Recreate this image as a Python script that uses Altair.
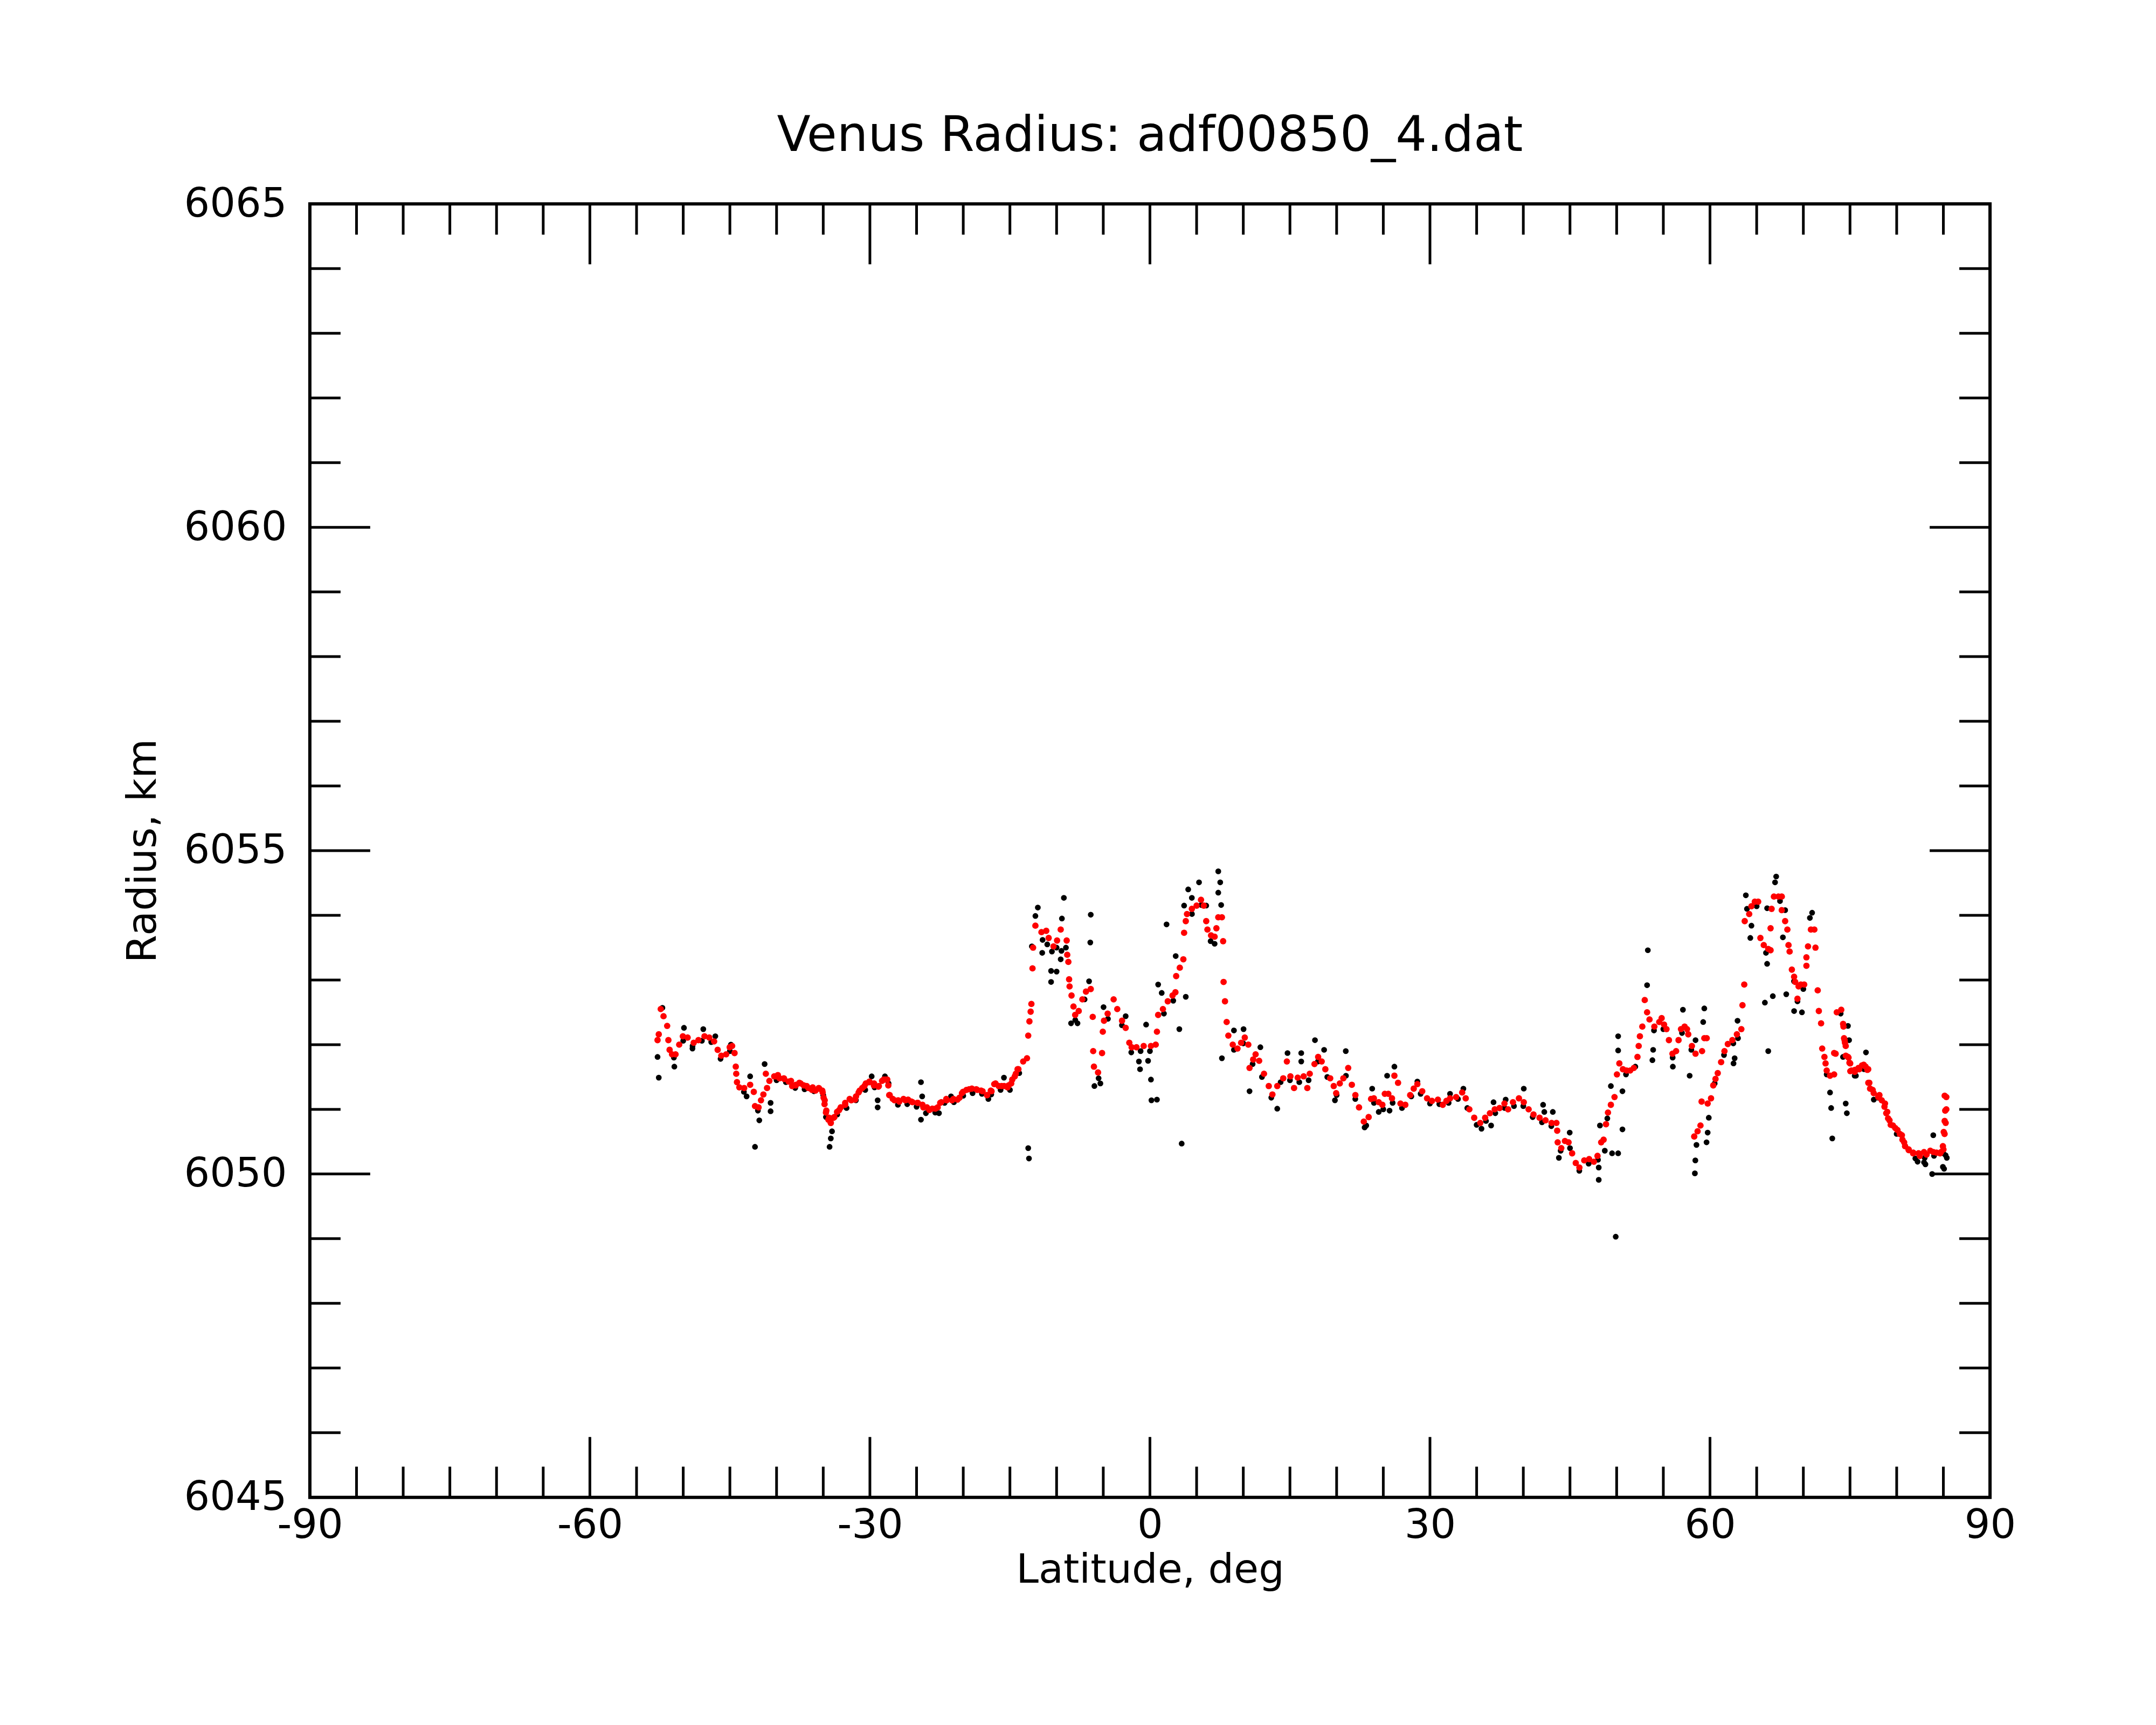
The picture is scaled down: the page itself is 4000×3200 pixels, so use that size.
import altair as alt
import pandas as pd

# ---------------- data ----------------
# smoothed radius (red), coarse reading over the whole pass
red_lat = [
    -52.75, -52.62, -52.41, -52.11, -51.72, -51.59, -51.46, -51.20, -50.82, -50.43,
    -50.04, -49.53, -48.88, -48.37, -47.72, -47.21, -46.69, -46.31, -45.92, -45.40,
    -45.02, -44.76, -44.50, -44.37, -44.32, -44.24, -43.99, -43.47, -42.83, -42.44,
    -42.31, -41.93, -41.67, -41.41, -41.15, -41.02, -40.77, -40.25, -39.86, -39.22,
    -38.45, -37.93, -37.42, -36.77, -36.13, -35.48, -35.10, -34.84, -34.71, -34.45,
    -34.19, -33.81, -33.29, -32.65, -32.00, -31.49, -31.10, -30.59, -30.07, -29.55,
    -29.04, -28.52, -28.14, -27.88, -27.36, -26.85, -26.20, -25.56, -24.92, -24.27,
    -23.63, -22.98, -22.47, -21.82, -21.05, -20.40, -20.02, -19.37, -18.60, -18.09,
    -17.44, -17.05, -16.54, -15.89, -15.25, -14.86, -14.48, -14.09, -13.58,
    -13.17, -13.04, -12.91, -12.78, -12.70, -12.58, -12.52, -12.27, -11.62, -11.11,
    -10.85, -10.33, -9.95, -9.56, -8.92, -8.86, -8.74, -8.66, -8.61, -8.40,
    -8.19, -8.01, -7.63, -7.24, -6.85, -6.34, -6.13, -6.08, -6.00, -5.56,
    -5.13, -5.05, -4.92, -4.53, -3.89, -3.50, -2.99, -2.60, -2.21, -1.96,
    -1.44, -0.67, 0.11, 0.62, 0.75, 0.88, 1.39, 1.91, 2.42, 2.73,
    2.81, 3.20, 3.58, 3.66, 3.84, 3.97, 4.49, 5.00, 5.47, 5.77,
    6.03, 6.16, 6.55, 6.93, 7.12, 7.32, 7.71, 7.84, 7.89, 8.04,
    8.22, 8.40, 8.87, 9.38, 9.77, 10.16, 10.54, 10.67, 11.06, 11.32,
    11.70, 12.22, 12.73, 13.12, 13.64, 14.28, 14.67, 15.05, 15.44, 15.83,
    16.47, 16.86, 17.12, 17.63, 18.02, 18.40, 18.79, 19.31, 19.69, 19.95,
    20.34, 20.72, 21.24, 21.63, 22.01, 22.40, 22.91, 23.43, 23.69,
    23.99, 24.51, 24.90, 25.16, 25.54, 25.93, 26.19, 26.58, 26.84, 27.36,
    27.88, 28.26, 28.65, 29.17, 29.69, 30.21, 30.85, 31.37, 31.76, 32.15,
    32.80, 33.45, 33.83, 34.22, 34.74, 35.39, 35.91, 36.42, 36.94, 37.46,
    37.98, 38.37, 38.89, 39.53, 40.05, 40.57, 41.09, 41.74, 42.38, 43.03,
    43.55, 43.63, 43.68, 44.07, 44.46, 44.85, 45.23, 45.62, 46.01, 46.53,
    47.05, 47.56, 47.95, 48.34, 48.60, 48.86, 49.07, 49.38, 49.77, 50.03,
    50.29, 50.67, 51.06, 51.45, 51.84, 52.23, 52.36, 52.49, 52.75, 53.01,
    53.26, 53.52, 54.04, 54.56, 54.82, 55.08, 55.34, 55.60, 55.98, 56.37,
    56.63, 56.89, 57.28, 57.54, 57.67, 58.06, 58.45, 59.15, 59.39, 59.65,
    58.31, 58.67, 58.98, 59.10, 59.75, 60.11, 60.35, 60.59, 60.83, 61.19,
    61.55, 61.91, 62.40, 62.88, 63.36, 63.48, 63.67, 63.72, 64.20, 64.44,
    64.80, 65.16, 65.40, 65.76, 66.24, 66.49, 66.49, 66.60, 66.85, 67.33,
    67.69, 67.69, 68.05, 68.29, 68.41, 68.53, 68.77, 69.01, 69.13, 69.37,
    69.49, 69.73, 70.09, 70.33, 70.33, 70.50, 70.81, 71.18, 71.30, 71.54,
    71.66, 71.90, 72.02, 72.26, 72.38, 72.50, 72.86, 73.46, 73.58, 74.06,
    74.30, 74.42, 74.54, 74.78, 75.02, 75.15, 75.51, 75.99, 76.47, 76.95,
    77.07, 77.43, 78.15, 78.75, 78.99, 79.23, 79.60, 80.08, 80.56, 80.80,
    81.28, 81.76, 82.48, 83.20, 83.93, 84.65, 85.01, 85.13, 85.25, 85.32,
    85.32,
]
red_val = [
    6052.07, 6052.16, 6052.55, 6052.44, 6052.29, 6052.07, 6051.92, 6051.85, 6051.85, 6052.00,
    6052.13, 6052.11, 6052.03, 6052.07, 6052.13, 6052.11, 6052.05, 6051.92, 6051.83, 6051.85,
    6051.96, 6051.98, 6051.87, 6051.66, 6051.55, 6051.42, 6051.34, 6051.33, 6051.38, 6051.27,
    6051.05, 6051.03, 6051.14, 6051.23, 6051.55, 6051.33, 6051.44, 6051.51, 6051.53, 6051.48,
    6051.44, 6051.38, 6051.40, 6051.36, 6051.34, 6051.33, 6051.29, 6051.14, 6050.95, 6050.84,
    6050.79, 6050.88, 6050.99, 6051.07, 6051.14, 6051.20, 6051.29, 6051.36, 6051.42, 6051.40,
    6051.36, 6051.46, 6051.46, 6051.22, 6051.14, 6051.12, 6051.14, 6051.12, 6051.10, 6051.03,
    6050.99, 6051.01, 6051.10, 6051.16, 6051.16, 6051.18, 6051.27, 6051.31, 6051.31, 6051.29,
    6051.22, 6051.29, 6051.40, 6051.36, 6051.34, 6051.40, 6051.51, 6051.62, 6051.74,
    6051.79, 6052.14, 6052.36, 6052.51, 6052.63, 6053.18, 6053.50, 6053.84, 6053.74, 6053.76,
    6053.65, 6053.52, 6053.61, 6053.78, 6053.61, 6053.39, 6053.28, 6053.01, 6052.90, 6052.76,
    6052.59, 6052.46, 6052.52, 6052.70, 6052.82, 6052.86, 6052.43, 6051.90, 6051.66, 6051.57,
    6051.87, 6052.20, 6052.37, 6052.48, 6052.70, 6052.55, 6052.37, 6052.26, 6052.03, 6051.96,
    6051.96, 6051.98, 6051.98, 6052.00, 6052.20, 6052.46, 6052.55, 6052.67, 6052.76, 6052.81,
    6053.06, 6053.19, 6053.32, 6053.73, 6053.91, 6054.02, 6054.10, 6054.15, 6054.24, 6054.15,
    6053.91, 6053.78, 6053.69, 6053.67, 6053.80, 6053.97, 6053.97, 6053.60, 6052.97, 6052.67,
    6052.35, 6052.14, 6052.00, 6051.94, 6052.03, 6052.11, 6052.00, 6051.64, 6051.77, 6051.85,
    6051.75, 6051.55, 6051.36, 6051.23, 6051.36, 6051.48, 6051.74, 6051.51, 6051.33, 6051.49,
    6051.51, 6051.33, 6051.55, 6051.70, 6051.81, 6051.74, 6051.62, 6051.48, 6051.36, 6051.25,
    6051.40, 6051.48, 6051.64, 6051.38, 6051.22, 6051.03, 6050.81, 6050.88, 6051.16,
    6051.17, 6051.11, 6051.07, 6051.24, 6051.24, 6051.17, 6051.52, 6051.41, 6051.09, 6051.07,
    6051.22, 6051.32, 6051.39, 6051.28, 6051.17, 6051.13, 6051.15, 6051.07, 6051.13, 6051.17,
    6051.19, 6051.26, 6051.17, 6051.00, 6050.87, 6050.79, 6050.87, 6050.94, 6051.00, 6051.02,
    6051.09, 6051.00, 6051.11, 6051.17, 6051.11, 6051.00, 6050.92, 6050.87, 6050.83, 6050.79,
    6050.79, 6050.67, 6050.49, 6050.40, 6050.51, 6050.49, 6050.32, 6050.17, 6050.10, 6050.21,
    6050.23, 6050.19, 6050.28, 6050.49, 6050.53, 6050.77, 6050.95, 6051.07, 6051.19, 6051.54,
    6051.71, 6051.62, 6051.60, 6051.60, 6051.64, 6051.81, 6051.98, 6052.13, 6052.28, 6052.69,
    6052.50, 6052.39, 6052.28, 6052.35, 6052.41, 6052.31, 6052.24, 6052.07, 6051.86, 6051.90,
    6052.07, 6052.24, 6052.28, 6052.24, 6052.16, 6051.98, 6051.86, 6051.90, 6052.10, 6052.10,
    6050.58, 6050.66, 6050.75, 6051.12, 6051.09, 6051.17, 6051.37, 6051.47, 6051.56, 6051.73,
    6051.90, 6052.01, 6052.07, 6052.16, 6052.24, 6052.61, 6052.93, 6053.91, 6054.02, 6054.14,
    6054.21, 6054.21, 6053.65, 6053.54, 6053.48, 6053.46, 6053.80, 6054.10, 6054.29, 6054.29,
    6054.29, 6054.08, 6053.91, 6053.78, 6053.54, 6053.44, 6053.16, 6053.05, 6052.97, 6052.71,
    6052.90, 6052.93, 6052.93, 6053.22, 6053.35, 6053.52, 6053.78, 6053.78, 6053.50, 6052.84,
    6052.52, 6052.33, 6051.94, 6051.81, 6051.71, 6051.60, 6051.52, 6051.86, 6052.50, 6052.54,
    6052.28, 6052.07, 6051.98, 6051.81, 6051.71, 6051.60, 6051.58, 6051.62, 6051.69, 6051.62,
    6051.41, 6051.30, 6051.22, 6051.09, 6050.96, 6050.83, 6050.75, 6050.68, 6050.60, 6050.49,
    6050.38, 6050.32, 6050.28, 6050.30, 6050.34, 6050.32, 6050.38, 6050.62, 6050.79, 6051.00,
    6051.19,
]
# smoothed radius (red), finer reading of the southern plain (-40 .. -14 deg)
red_lat_south = [
    -40.06, -39.68, -39.19, -38.71, -38.33, -37.94, -37.56, -37.08, -36.59, -36.21,
    -35.83, -35.44, -35.06, -34.96, -34.86, -34.67, -34.38, -34.19, -33.90, -33.52,
    -33.13, -32.65, -32.17, -31.59, -31.21, -30.82, -30.44, -30.05, -29.57, -29.09,
    -28.70, -28.32, -28.03, -27.93, -27.55, -26.97, -26.40, -25.91, -25.43, -24.86,
    -24.37, -23.89, -23.32, -22.74, -22.35, -21.78, -21.20, -20.62, -20.14, -19.66,
    -19.08, -18.50, -17.93, -17.45, -16.97, -16.68, -16.20, -15.62, -15.14, -14.75,
    -14.37, -14.18,
]
red_val_south = [
    6051.51, 6051.48, 6051.47, 6051.43, 6051.36, 6051.37, 6051.41, 6051.37, 6051.33, 6051.30,
    6051.29, 6051.32, 6051.26, 6051.18, 6051.08, 6050.98, 6050.87, 6050.79, 6050.87, 6050.96,
    6051.03, 6051.10, 6051.16, 6051.15, 6051.26, 6051.33, 6051.40, 6051.43, 6051.37, 6051.35,
    6051.44, 6051.46, 6051.37, 6051.22, 6051.16, 6051.14, 6051.16, 6051.15, 6051.11, 6051.10,
    6051.07, 6051.03, 6051.01, 6051.03, 6051.11, 6051.14, 6051.14, 6051.15, 6051.25, 6051.30,
    6051.32, 6051.30, 6051.28, 6051.22, 6051.28, 6051.39, 6051.36, 6051.36, 6051.37, 6051.46,
    6051.55, 6051.62,
]
# smoothed radius (red), finer reading near the north pole (73 .. 85 deg)
red_lat_north = [
    73.30, 73.30, 74.26, 74.36, 74.46, 74.55, 74.84, 74.94, 75.03, 75.52,
    75.90, 76.29, 76.67, 76.86, 76.96, 77.15, 77.54, 78.02, 78.40, 78.69,
    78.88, 79.08, 79.36, 79.85, 80.33, 80.62, 80.90, 81.29, 81.77, 82.35,
    82.93, 83.60, 84.27, 84.75, 84.95, 85.04, 85.14, 85.20, 85.14,
]
red_val_north = [
    6051.87, 6051.54, 6052.32, 6052.10, 6052.03, 6051.83, 6051.80, 6051.72, 6051.59, 6051.61,
    6051.64, 6051.68, 6051.66, 6051.61, 6051.41, 6051.32, 6051.25, 6051.19, 6051.14, 6051.04,
    6050.94, 6050.86, 6050.76, 6050.71, 6050.62, 6050.53, 6050.43, 6050.37, 6050.33, 6050.32,
    6050.34, 6050.36, 6050.33, 6050.34, 6050.43, 6050.65, 6050.82, 6050.98, 6051.21,
]

# raw radius (black)
black_lat = [
    # raw points lying along the smoothed track
    -51.0, -50.0, -49.0, -48.0, -47.0, -46.0, -45.0, -43.5, -42.0, -40.0,
    -39.0, -38.0, -37.0, -36.0, -35.0, -33.5, -32.5, -31.5, -30.5, -29.5,
    -28.0, -27.0, -26.0, -25.0, -24.0, -23.0, -22.0, -21.0, -20.0, -19.0,
    -18.0, -17.0, -16.0, -15.0, -14.0, -11.5, -11.0, -10.5, -10.0, -9.0,
    -8.0, -7.0, -5.5, -4.5, -3.0, -2.0, -1.0, 0.0, 1.5, 2.5,
    4.5, 5.5, 6.5, 9.0, 10.0, 11.0, 12.0, 13.0, 14.0, 15.0,
    16.0, 17.0, 18.0, 19.0, 20.0, 21.0, 22.0, 23.0, 24.0, 25.0,
    26.0, 27.0, 28.0, 29.0, 30.0, 31.0, 32.0, 33.0, 34.0, 35.0,
    36.0, 37.0, 38.0, 39.0, 40.0, 41.0, 42.0, 43.0, 44.0, 45.0,
    46.0, 47.0, 48.0, 49.0, 51.0, 52.0, 54.0, 55.0, 56.0, 57.0,
    58.0, 60.5, 61.5, 62.5, 63.0, 65.0, 66.0, 67.5, 69.0, 70.0,
    72.5, 74.0, 75.5, 76.5, 78.0, 80.0, 82.0, 83.0, 84.0, 85.0,
    # scattered raw points
    -52.62, -52.75, -52.23, -50.95, -49.92, -47.85, -49.01, -46.56, -44.89, -42.83,
    -43.21, -42.31, -41.85, -41.28, -40.64, -40.64, -34.32, -34.19, -34.06, -34.71,
    -29.81, -28.39, -29.17, -29.17, -24.53, -24.53, -24.40, -22.60, -21.31, -15.64,
    -17.31,
    -13.04, -12.96, -12.01, -12.27, -12.65, -11.54, -10.59, -10.00, -10.59, -9.56,
    -9.48, -9.22, -9.43, -6.34, -6.39, -6.52, -8.45, -7.76, -5.95, -5.31,
    -4.97, -2.60, -1.18, -1.06, -0.41, -0.20, 0.11, 0.16, 0.75, 0.88,
    1.26, 1.78, 2.76, 3.15, 3.84, 3.40, 4.10, 5.26, 3.66, 4.49,
    6.03, 7.32, 7.53, 7.32, 7.63, 6.93, 7.71, 9.00, 10.03, 10.67,
    11.83, 13.64, 14.74, 16.21, 16.21, 17.68, 18.66, 20.98, 19.82, 23.17,
    53.34, 53.26, 50.16, 50.16, 50.62, 50.62, 49.51, 50.16, 49.90, 48.08,
    48.08, 48.21, 48.73, 49.38, 58.45, 53.91, 53.83, 43.81, 44.97, 42.12,
    42.25, 43.16, 40.05, 36.55, 38.11, 35.52, 36.81, 25.67, 25.41, 26.19,
    23.81, 24.51, 32.15, 33.58, 28.65,
    67.09, 66.97, 63.84, 63.96, 64.32, 64.44, 66.12, 66.12, 65.88, 66.73,
    66.24, 68.17, 67.81, 68.05, 70.94, 70.70, 69.85, 69.01, 69.37, 72.86,
    72.98, 73.10, 74.54, 74.66, 74.78, 74.90, 74.25, 76.71, 75.63, 77.55,
    82.24, 83.08, 83.80, 83.92, 85.08, 85.37, 57.10, 59.39, 59.27, 57.82,
    56.02, 58.55, 58.43, 58.38, 59.87, 59.75, 59.63, 62.95, 62.52, 62.64,
    82.93, 84.95, 85.24,
]
black_val = [
    6051.80, 6052.06, 6051.98, 6052.06, 6052.04, 6051.78, 6051.90, 6051.27, 6050.98, 6051.45,
    6051.42, 6051.33, 6051.31, 6051.28, 6051.22, 6050.92, 6051.02, 6051.14, 6051.30, 6051.34,
    6051.40, 6051.07, 6051.08, 6051.04, 6050.94, 6050.95, 6051.10, 6051.11, 6051.21, 6051.25,
    6051.24, 6051.23, 6051.30, 6051.30, 6051.56, 6053.62, 6053.55, 6053.44, 6053.50, 6053.50,
    6052.38, 6052.70, 6051.48, 6052.40, 6052.30, 6051.88, 6051.90, 6051.90, 6052.48, 6052.68,
    6054.02, 6054.16, 6053.60, 6051.92, 6052.02, 6051.70, 6051.50, 6051.18, 6051.42, 6051.45,
    6051.42, 6051.45, 6051.74, 6051.50, 6051.22, 6051.52, 6051.16, 6050.72, 6051.10, 6051.00,
    6051.10, 6051.02, 6051.20, 6051.24, 6051.09, 6051.08, 6051.10, 6051.16, 6051.02, 6050.76,
    6050.82, 6050.94, 6051.02, 6051.05, 6051.05, 6050.88, 6050.80, 6050.74, 6050.36, 6050.40,
    6050.05, 6050.16, 6050.22, 6050.86, 6051.54, 6051.66, 6052.22, 6052.24, 6051.80, 6052.18,
    6051.92, 6051.40, 6051.84, 6052.02, 6052.10, 6054.14, 6053.42, 6054.22, 6052.98, 6052.86,
    6051.54, 6052.48, 6051.52, 6051.62, 6051.18, 6050.62, 6050.24, 6050.25, 6050.28, 6050.32,
    6051.49, 6051.81, 6052.57, 6051.66, 6052.26, 6052.24, 6051.94, 6052.13, 6052.00, 6051.51,
    6051.20, 6050.42, 6050.83, 6051.70, 6050.97, 6051.10, 6050.42, 6050.55, 6050.66, 6050.88,
    6051.51, 6051.51, 6051.03, 6051.14, 6051.42, 6050.84, 6051.20, 6050.94, 6051.20, 6051.49,
    6051.16,
    6050.40, 6050.24, 6054.12, 6053.99, 6053.52, 6053.42, 6053.14, 6053.13, 6052.97, 6053.32,
    6053.45, 6054.27, 6053.95, 6054.01, 6053.58, 6052.98, 6052.33, 6052.33, 6051.36, 6051.40,
    6052.58, 6052.44, 6051.74, 6051.62, 6052.31, 6051.75, 6051.46, 6051.14, 6051.15, 6052.93,
    6052.80, 6053.86, 6053.37, 6052.24, 6052.74, 6050.47, 6054.40, 6054.51, 6054.15, 6054.27,
    6054.15, 6054.68, 6054.51, 6054.35, 6054.16, 6053.56, 6051.79, 6052.22, 6052.24, 6051.28,
    6051.96, 6051.01, 6051.87, 6051.87, 6051.74, 6052.07, 6051.92, 6051.90, 6051.14, 6050.75,
    6053.46, 6052.92, 6052.13, 6051.91, 6051.28, 6050.69, 6050.32, 6050.32, 6049.03, 6049.91,
    6050.10, 6050.75, 6050.36, 6051.36, 6052.07, 6051.92, 6051.76, 6050.25, 6050.64, 6051.07,
    6050.96, 6050.96, 6051.32, 6050.75, 6051.15, 6050.70, 6051.11, 6050.98, 6051.52, 6051.66,
    6051.32, 6050.96, 6051.24, 6051.32, 6051.43,
    6054.60, 6054.51, 6054.31, 6054.10, 6053.65, 6053.84, 6054.11, 6053.25, 6052.65, 6052.75,
    6051.90, 6052.78, 6053.66, 6054.08, 6054.04, 6053.96, 6052.50, 6052.52, 6052.67, 6051.26,
    6051.02, 6050.55, 6051.09, 6050.94, 6052.29, 6052.07, 6051.81, 6051.88, 6051.52, 6051.15,
    6050.19, 6050.15, 6050.00, 6050.60, 6050.08, 6050.25, 6052.54, 6052.56, 6052.35, 6051.52,
    6051.66, 6050.45, 6050.21, 6050.01, 6050.87, 6050.64, 6050.49, 6052.37, 6051.71, 6051.79,
    6050.18, 6050.11, 6050.29,
]

x_major = [-90, -60, -30, 0, 30, 60, 90]
x_minor = [-85, -80, -75, -70, -65, -55, -50, -45, -40, -35, -25, -20, -15, -10, -5,
           5, 10, 15, 20, 25, 35, 40, 45, 50, 55, 65, 70, 75, 80, 85]
y_major = [6045, 6050, 6055, 6060, 6065]
y_minor = [6046, 6047, 6048, 6049, 6051, 6052, 6053, 6054, 6056, 6057, 6058, 6059,
           6061, 6062, 6063, 6064]

TITLE = "Venus Radius: adf00850_4.dat"
XTITLE = "Latitude, deg"
YTITLE = "Radius, km"

# ---------------- layout ----------------
W, H = 3118, 2400
MAJOR, MINOR = 112, 57
FONT = "DejaVu Sans"

red_df = pd.DataFrame({"lat": red_lat + red_lat_south + red_lat_north,
                       "radius": red_val + red_val_south + red_val_north})
black_df = pd.DataFrame({"lat": black_lat, "radius": black_val})

xscale = alt.Scale(domain=[-90, 90], nice=False, zero=False)
yscale = alt.Scale(domain=[6045, 6065], nice=False, zero=False)

common = dict(labelFlush=False, labelOverlap=False, labelLimit=0,
              domain=False, ticks=False, tickSize=0, grid=False,
              labelFont=FONT, labelFontSize=75, labelColor="black",
              titleFont=FONT, titleFontSize=75, titleFontWeight="normal",
              titleColor="black")
xaxis = alt.Axis(values=x_major, labelExpr="datum.value + ''", title=XTITLE,
                 labelPadding=16, titlePadding=9, **common)
yaxis = alt.Axis(values=y_major, labelExpr="datum.value + ''", title=YTITLE,
                 labelPadding=43, titlePadding=86, titleBaseline="alphabetic",
                 **common)

X = alt.X("lat:Q", scale=xscale, axis=xaxis)
Y = alt.Y("radius:Q", scale=yscale, axis=yaxis)

black = alt.Chart(black_df).mark_circle(size=115, color="black", opacity=1).encode(x=X, y=Y)
red = alt.Chart(red_df).mark_circle(size=140, color="#ff0000", opacity=1).encode(x=X, y=Y)


def xticks(vals, length):
    df = pd.DataFrame({"lat": vals})
    base = alt.Chart(df).mark_rule(color="black", strokeWidth=5)
    bottom = base.encode(x=X, y=alt.value(H), y2=alt.value(H - length))
    top = base.encode(x=X, y=alt.value(0), y2=alt.value(length))
    return [bottom, top]


def yticks(vals, length):
    df = pd.DataFrame({"radius": vals})
    base = alt.Chart(df).mark_rule(color="black", strokeWidth=5)
    left = base.encode(y=Y, x=alt.value(0), x2=alt.value(length))
    right = base.encode(y=Y, x=alt.value(W), x2=alt.value(W - length))
    return [left, right]


layers = [black, red] + xticks(x_major, MAJOR) + xticks(x_minor, MINOR) \
    + yticks(y_major, MAJOR) + yticks(y_minor, MINOR)

chart = alt.layer(*layers).properties(
    width=W, height=H,
    background="white",
    autosize=alt.AutoSizeParams(type="none"),
    padding={"left": 567, "top": 370, "right": 300, "bottom": 400},
    title=alt.TitleParams(TITLE, fontSize=91, font=FONT, fontWeight="normal",
                          color="black", anchor="middle", baseline="alphabetic",
                          offset=-30),
).configure_view(
    stroke="black", strokeWidth=6
)

chart.save("out.html", embed_options={"renderer": "svg", "actions": False})
